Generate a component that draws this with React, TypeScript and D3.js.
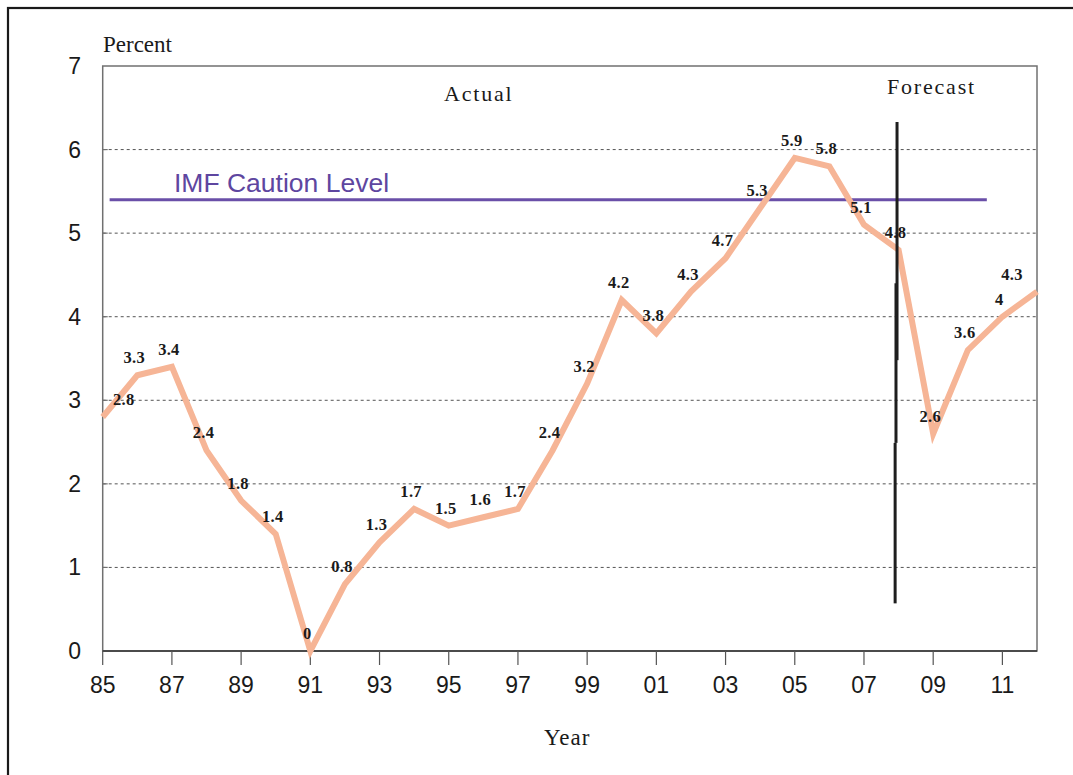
import React from "react";
import * as d3 from "d3";

const years = [1985,1986,1987,1988,1989,1990,1991,1992,1993,1994,1995,1996,1997,1998,1999,2000,2001,2002,2003,2004,2005,2006,2007,2008,2009,2010,2011,2012];
const values = [2.8,3.3,3.4,2.4,1.8,1.4,0,0.8,1.3,1.7,1.5,1.6,1.7,2.4,3.2,4.2,3.8,4.3,4.7,5.3,5.9,5.8,5.1,4.8,2.6,3.6,4,4.3];
const valueLabels = ["2.8","3.3","3.4","2.4","1.8","1.4","0","0.8","1.3","1.7","1.5","1.6","1.7","2.4","3.2","4.2","3.8","4.3","4.7","5.3","5.9","5.8","5.1","4.8","2.6","3.6","4","4.3"];
const xTickYears = [1985,1987,1989,1991,1993,1995,1997,1999,2001,2003,2005,2007,2009,2011];
const xTickLabels = ["85","87","89","91","93","95","97","99","01","03","05","07","09","11"];
const yTicks = [0,1,2,3,4,5,6,7];
const cautionLevel = 5.4;
const cautionSpan = [1985.2, 2010.55];
// forecast divider drawn as slightly offset segments: [year, fromValue, toValue]
const forecastSegments: [number, number, number][] = [
  [2007.955, 6.33, 3.48],
  [2007.925, 4.4, 2.49],
  [2007.9, 2.49, 0.57],
];

const W = 1073, H = 775;
const left = 102.7, right = 1037, top = 66, bottom = 651;

export default function App() {
  const x = d3.scaleLinear().domain([1985, 2012]).range([left, right]);
  const y = d3.scaleLinear().domain([0, 7]).range([bottom, top]);
  const line = d3.line<number>().x((_, i) => x(years[i])).y((d) => y(d));
  const serif = "'Liberation Serif', 'Times New Roman', serif";
  const sans = "'Liberation Sans', Arial, sans-serif";
  const axisColor = "#707070";
  const n = values.length;
  return (
    <svg width={W} height={H} style={{ position: "absolute", left: 0, top: 0 }}>
      <rect x={0} y={0} width={W} height={H} fill="#fff" />
      <rect x={8} y={8} width={1200} height={900} fill="none" stroke="#1a1a1a" strokeWidth={2.2} />
      {/* gridlines */}
      {yTicks.filter((t) => t > 0 && t < 7).map((t) => (
        <g key={t}>
          <line x1={left} x2={right} y1={y(t)} y2={y(t)} stroke="#555" strokeWidth={1} strokeDasharray="3,3" />
          <line x1={left} x2={left + 5} y1={y(t)} y2={y(t)} stroke={axisColor} strokeWidth={1.2} />
        </g>
      ))}
      {/* frame */}
      <rect x={left} y={top} width={right - left} height={bottom - top} fill="none" stroke={axisColor} strokeWidth={1.5} />
      <line x1={left} x2={right} y1={bottom} y2={bottom} stroke="#333" strokeWidth={1.5} />
      {/* x ticks */}
      {xTickYears.map((yr, i) => (
        <g key={yr}>
          <line x1={x(yr)} x2={x(yr)} y1={bottom} y2={bottom + 14} stroke="#555" strokeWidth={1.2} />
          <text x={x(yr)} y={693} textAnchor="middle" fontFamily={sans} fontSize={23} fill="#1a1a1a">{xTickLabels[i]}</text>
        </g>
      ))}
      {/* y tick labels */}
      {yTicks.map((t) => (
        <text key={t} x={81} y={y(t) + 8} textAnchor="end" fontFamily={sans} fontSize={23} fill="#1a1a1a">{t}</text>
      ))}
      <text x={103} y={52} fontFamily={serif} fontSize={23} fill="#1a1a1a">Percent</text>
      <text x={444} y={101} fontFamily={serif} fontSize={22} letterSpacing={1.8} fill="#1a1a1a">Actual</text>
      <text x={887} y={94} fontFamily={serif} fontSize={22} letterSpacing={1.8} fill="#1a1a1a">Forecast</text>
      <text x={544} y={745} fontFamily={serif} fontSize={23} letterSpacing={1} fill="#1a1a1a">Year</text>
      {/* caution level */}
      <line x1={x(cautionSpan[0])} x2={x(cautionSpan[1])} y1={y(cautionLevel)} y2={y(cautionLevel)} stroke="#6a4fa8" strokeWidth={3} />
      <text x={174} y={192} fontFamily={sans} fontSize={26.5} fill="#5e46a0">IMF Caution Level</text>
      {/* series line */}
      <path d={line(values) || ""} fill="none" stroke="#f6b596" strokeWidth={6} strokeLinejoin="miter" />
      {/* forecast divider */}
      {forecastSegments.map(([yr, a, b], i) => (
        <line key={i} x1={x(yr)} x2={x(yr)} y1={y(a)} y2={y(b)} stroke="#1e1e1e" strokeWidth={3} />
      ))}
      {/* value labels */}
      {values.map((v, i) => {
        const dx = i === 0 ? 21 : i === n - 1 ? -25 : -3;
        return (
          <text key={i} x={x(years[i]) + dx} y={y(v) - 12} textAnchor="middle" fontFamily={serif} fontWeight="bold" fontSize={16.5} letterSpacing={0.3} fill="#1a1a1a">{valueLabels[i]}</text>
        );
      })}
    </svg>
  );
}
